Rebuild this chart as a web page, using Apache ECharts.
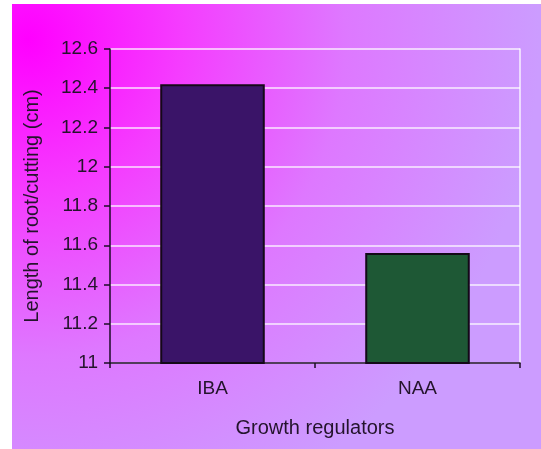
<!DOCTYPE html>
<html>
<head>
<meta charset="utf-8">
<script src="https://cdn.jsdelivr.net/npm/echarts@6/dist/echarts.min.js"></script>
<style>
  html, body { margin: 0; padding: 0; background: #fff; }
  #chart { width: 541px; height: 449px; }
</style>
</head>
<body>
<div id="chart"></div>
<script>
// data
var categories = ["IBA", "NAA"];
var rootLength = [12.42, 11.56];
var barColors = ["#3a1468", "#1e5835"];
var yMin = 11, yMax = 12.6, yStep = 0.2;

var chart = echarts.init(document.getElementById("chart"));
var textColor = "#24142c";
var fontFam = "Liberation Sans, Arial, sans-serif";

var option = {
  animation: false,
  graphic: [
    {
      // slide background, magenta glow from the top-left corner
      type: "rect",
      left: 12,
      top: 4,
      z: -10,
      shape: { width: 529, height: 445 },
      style: {
        fill: {
          type: "radial",
          x: 0.03, y: 0.08, r: 1.15,
          colorStops: [
            { offset: 0, color: "#ff00ff" },
            { offset: 0.3, color: "#f53cff" },
            { offset: 0.62, color: "#de78ff" },
            { offset: 1, color: "#cc9cff" }
          ]
        }
      }
    }
  ],
  grid: { left: 110, right: 21, top: 49, bottom: 86 },
  xAxis: {
    type: "category",
    data: categories,
    name: "Growth regulators",
    nameLocation: "middle",
    nameGap: 55,
    nameTextStyle: { color: textColor, fontSize: 20, fontFamily: fontFam },
    axisLine: { lineStyle: { color: "#1c0d26", width: 1.5 } },
    axisTick: { show: true, length: 5, lineStyle: { color: "#1c0d26", width: 1.5 } },
    axisLabel: { color: textColor, fontSize: 19, fontFamily: fontFam, margin: 16 }
  },
  yAxis: [
    {
      type: "value",
      min: yMin,
      max: yMax,
      interval: yStep,
      name: "Length of root/cutting (cm)",
      nameLocation: "middle",
      nameGap: 68,
      nameTextStyle: { color: textColor, fontSize: 20, fontFamily: fontFam },
      axisLine: { show: true, lineStyle: { color: "#1c0d26", width: 1.5 } },
      axisTick: { show: true, length: 6, lineStyle: { color: "#1c0d26", width: 1.5 } },
      axisLabel: {
        color: textColor, fontSize: 19, fontFamily: fontFam, margin: 12,
        formatter: function (v) { return String(Math.round(v * 10) / 10); }
      },
      splitLine: { show: true, lineStyle: { color: "rgba(255,255,255,0.85)", width: 1.5 } }
    },
    {
      // white frame line on the right of the plot
      type: "value",
      position: "right",
      min: yMin,
      max: yMax,
      interval: yStep,
      axisLine: { show: true, lineStyle: { color: "rgba(255,255,255,0.85)", width: 1.5 } },
      axisTick: { show: false },
      axisLabel: { show: false },
      splitLine: { show: false }
    }
  ],
  series: [
    {
      type: "bar",
      data: rootLength.map(function (v, i) {
        return {
          value: v,
          itemStyle: { color: barColors[i] }
        };
      }),
      barWidth: "51%",
      itemStyle: { borderColor: "#140818", borderWidth: 2 }
    }
  ]
};

chart.setOption(option);
</script>
</body>
</html>
